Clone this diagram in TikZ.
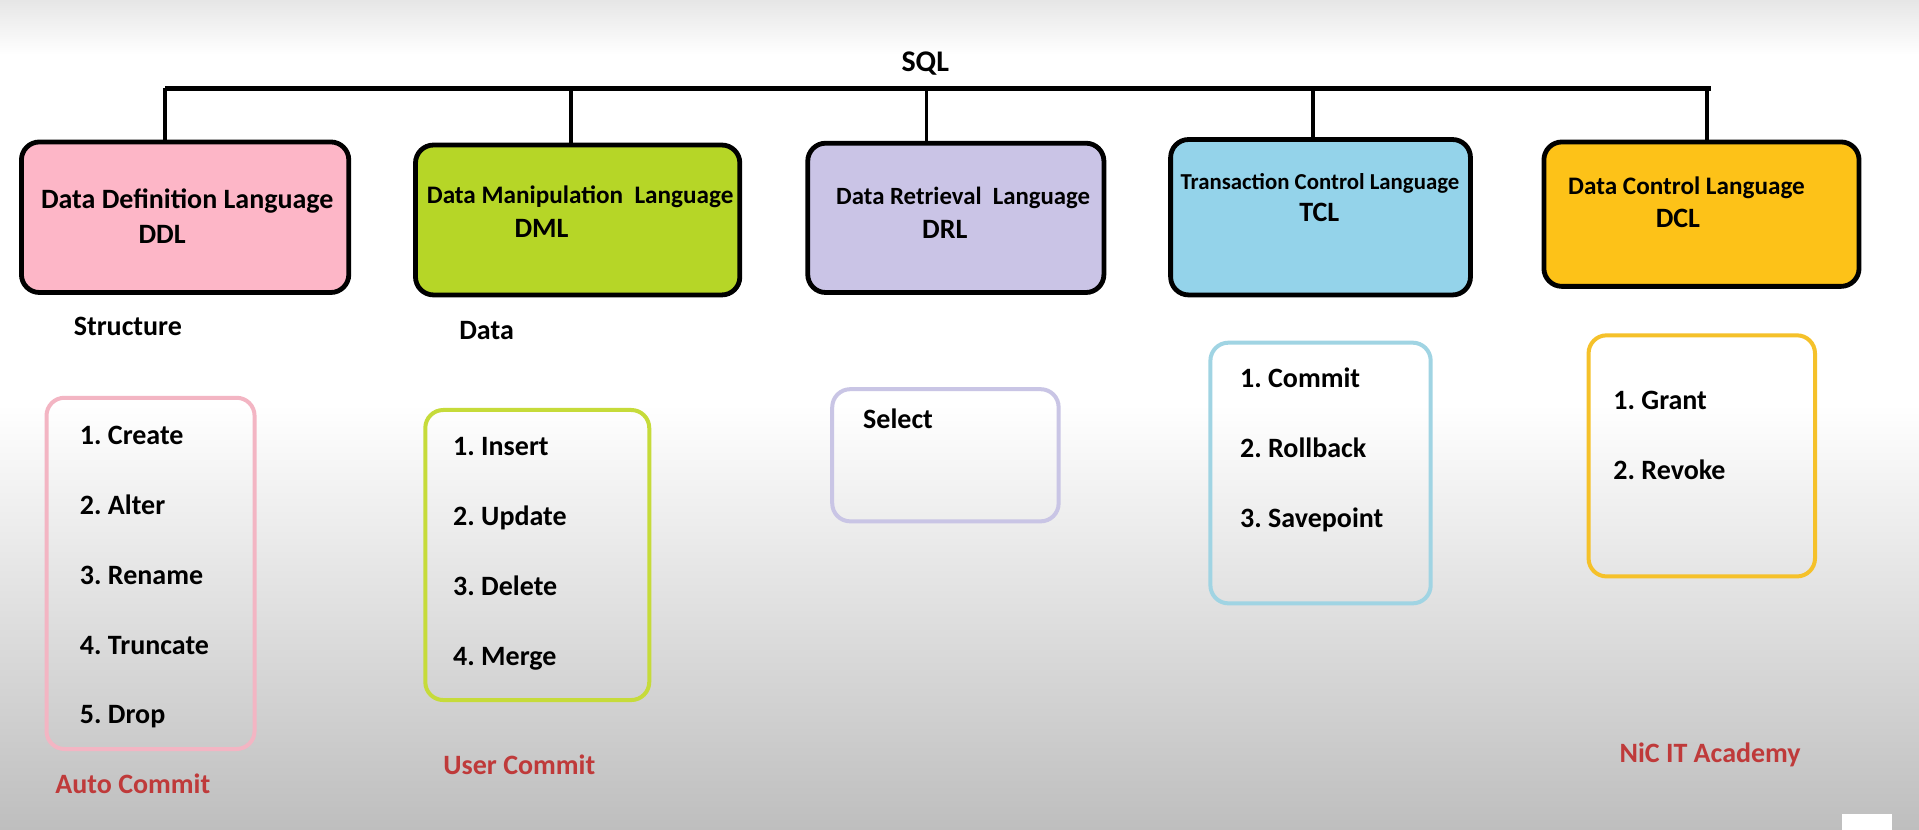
\documentclass[tikz,border=0pt]{standalone}
\usepackage{fontspec}
\setmainfont{Carlito}
\frenchspacing
\definecolor{ddlfill}{HTML}{FDB6C7}
\definecolor{dmlfill}{HTML}{B6D627}
\definecolor{drlfill}{HTML}{CAC4E6}
\definecolor{tclfill}{HTML}{94D3EA}
\definecolor{dclfill}{HTML}{FDC218}
\definecolor{ddledge}{HTML}{F3B5C3}
\definecolor{dmledge}{HTML}{C6DB3A}
\definecolor{drledge}{HTML}{C9C5E5}
\definecolor{tcledge}{HTML}{A0D4E3}
\definecolor{dcledge}{HTML}{F5C12A}
\definecolor{brick}{HTML}{BF3A3A}
\definecolor{bggray}{HTML}{BEBEBE}
\definecolor{bgtop}{HTML}{E6E6E6}
\def\pxu{0.6119pt}
\begin{document}
\frenchspacing
\begin{tikzpicture}[x=0.6119pt,y=-0.6119pt,
  hbox/.style={draw=black, line width=2.4pt, rounded corners=9pt, anchor=north west, inner sep=0pt, outer sep=0pt},
  lbox/.style={line width=2pt, rounded corners=9pt, anchor=north west, inner sep=0pt, outer sep=0pt},
  ttl/.style={font=\bfseries, anchor=base, inner sep=0pt},
  itemtxt/.style={font=\fontsize{14}{16}\selectfont\bfseries, anchor=base west, inner sep=0pt},
  redlbl/.style={font=\fontsize{14}{16}\selectfont\bfseries, text=brick, anchor=base west, inner sep=0pt},
  barline/.style={line width=2.5pt},
  dropline/.style={line width=1.9pt}
]
% background
\useasboundingbox (0,0) rectangle (1568,678);
\fill[white] (0,0) rectangle (1568,678);
\shade[top color=bgtop, bottom color=white] (0,0) rectangle (1568,45);
\shade[top color=white, bottom color=bggray] (0,330) rectangle (1568,678);
\fill[white] (1505,665) rectangle (1546,678);

% title
\node[ttl, font=\fontsize{15}{17}\selectfont\bfseries] (sql) at (756,58.5) {SQL};
\coordinate (barL) at (135,72);
\coordinate (barR) at (1398,72);
\draw[barline] (barL) -- (barR);
\coordinate (j1) at (135,72);
\coordinate (j2) at (466.5,72);
\coordinate (j3) at (757,72);
\coordinate (j4) at (1073,72);
\coordinate (j5) at (1395,72);

% header boxes
\node[hbox, fill=ddlfill, minimum width=267.5*\pxu, minimum height=123*\pxu] (ddl) at (17.5,116) {};
\node[hbox, fill=dmlfill, minimum width=265*\pxu, minimum height=122.5*\pxu] (dml) at (339.5,118.5) {};
\node[hbox, fill=drlfill, minimum width=242*\pxu, minimum height=122*\pxu] (drl) at (660,117) {};
\node[hbox, fill=tclfill, minimum width=245*\pxu, minimum height=127*\pxu] (tcl) at (956.5,114) {};
\node[hbox, fill=dclfill, minimum width=257.5*\pxu, minimum height=118*\pxu] (dcl) at (1261.5,116) {};

\draw[dropline] (j1) -- (j1 |- ddl.north);
\draw[dropline] (j2) -- (j2 |- dml.north);
\draw[dropline] (j3) -- (j3 |- drl.north);
\draw[dropline] (j4) -- (j4 |- tcl.north);
\draw[dropline] (j5) -- (j5 |- dcl.north);

% header texts
\node[ttl, font=\fontsize{14}{16}\selectfont\bfseries] (ddlt) at (153,170) {Data Definition Language};
\node[ttl, font=\fontsize{14}{16}\selectfont\bfseries] (ddla) at (132.5,199) {DDL};
\node[ttl, font=\fontsize{12.6}{15}\selectfont\bfseries] (dmlt) at (474,166.5) {Data Manipulation\ \ Language};
\node[ttl, font=\fontsize{14}{16}\selectfont\bfseries] (dmla) at (442.5,194) {DML};
\node[ttl, font=\fontsize{12.4}{15}\selectfont\bfseries] (drlt) at (787,167) {Data Retrieval\ \ Language};
\node[ttl, font=\fontsize{14}{16}\selectfont\bfseries] (drla) at (772,195) {DRL};
\node[ttl, font=\fontsize{11.4}{14}\selectfont\bfseries] (tclt) at (1078.5,155) {Transaction Control Language};
\node[ttl, font=\fontsize{14}{16}\selectfont\bfseries] (tcla) at (1078,181) {TCL};
\node[ttl, font=\fontsize{12.6}{15}\selectfont\bfseries] (dclt) at (1378,159) {Data Control Language};
\node[ttl, font=\fontsize{14}{16}\selectfont\bfseries] (dcla) at (1371,186) {DCL};

% sub labels
\node[itemtxt] (struct) at (60,274) {Structure};
\node[itemtxt] (datal) at (375,277) {Data};

% list boxes
\node[lbox, draw=ddledge, minimum width=170*\pxu, minimum height=287*\pxu] (ddllist) at (38,325) {};
\node[lbox, draw=dmledge, minimum width=183*\pxu, minimum height=237*\pxu] (dmllist) at (347.5,335) {};
\node[lbox, draw=drledge, minimum width=185*\pxu, minimum height=108*\pxu] (drllist) at (680,318) {};
\node[lbox, draw=tcledge, minimum width=180*\pxu, minimum height=213*\pxu] (tcllist) at (989,280) {};
\node[lbox, draw=dcledge, minimum width=185*\pxu, minimum height=197*\pxu] (dcllist) at (1298,274) {};

% list items
\node[itemtxt] (c1) at (65,363.5) {1. Create};
\node[itemtxt] (c2) at (65,420.5) {2. Alter};
\node[itemtxt] (c3) at (65,477.5) {3. Rename};
\node[itemtxt] (c4) at (65,534.5) {4. Truncate};
\node[itemtxt] (c5) at (65,591.5) {5. Drop};

\node[itemtxt] (m1) at (370,372.5) {1. Insert};
\node[itemtxt] (m2) at (370,429.5) {2. Update};
\node[itemtxt] (m3) at (370,486.5) {3. Delete};
\node[itemtxt] (m4) at (370,543.5) {4. Merge};

\node[itemtxt] (r1) at (705,350) {Select};

\node[itemtxt] (t1) at (1013,317) {1. Commit};
\node[itemtxt] (t2) at (1013,374) {2. Rollback};
\node[itemtxt] (t3) at (1013,431) {3. Savepoint};

\node[itemtxt] (g1) at (1318,335) {1. Grant};
\node[itemtxt] (g2) at (1318,392) {2. Revoke};

% red labels
\node[redlbl] (auto) at (45,648) {Auto Commit};
\node[redlbl] (user) at (362,633) {User Commit};
\node[redlbl] (nic) at (1323,623) {NiC IT Academy};
\end{tikzpicture}
\end{document}
